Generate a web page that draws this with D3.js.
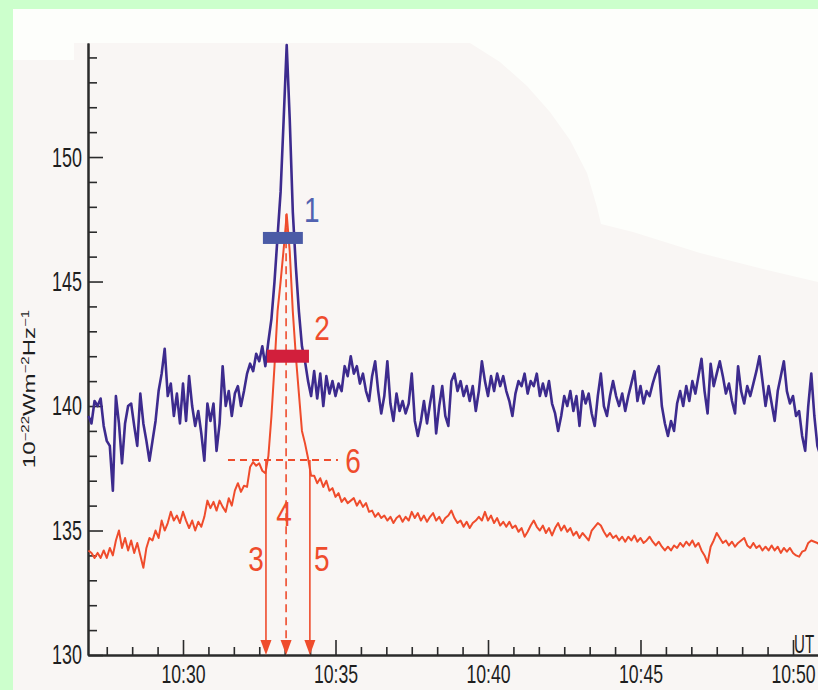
<!DOCTYPE html>
<html>
<head>
<meta charset="utf-8">
<script src="https://cdn.jsdelivr.net/npm/d3@7"></script>
<style>
  html, body { margin: 0; padding: 0; background: #ccffcc; }
  svg { display: block; }
  text { font-family: "Liberation Sans", Arial, Helvetica, sans-serif; }
</style>
</head>
<body>
<div id="chart"></div>
<script>
// ── Data ──────────────────────────────────────────────────────────────────
// time in minutes after 10:00 UT, one sample every 0.1 min
const sampleStart = 26.9;
const sampleStep  = 0.1;

// upper (blue) flux record, 10^-22 W m^-2 Hz^-1
const blueFlux = [
  139.6, 139.3, 140.2, 140.0, 140.3, 139.2, 138.6, 138.4, 136.6, 140.4,
  139.3, 137.7, 139.3, 140.0, 140.1, 139.2, 138.4, 140.5, 139.3, 138.6,
  137.8, 138.6, 139.4, 140.6, 141.3, 142.3, 140.4, 140.9, 139.6, 140.5,
  139.3, 140.9, 139.4, 141.2, 140.0, 139.2, 139.8, 138.9, 137.8, 140.1,
  139.4, 140.1, 138.2, 139.3, 141.6, 140.0, 140.6, 139.6, 140.5, 140.8,
  140.0, 140.6, 141.3, 141.7, 141.4, 142.1, 141.8, 142.4, 141.6, 142.6,
  143.5, 145.0, 146.8, 148.6, 151.5, 154.5, 151.5, 147.8, 145.6, 143.8,
  142.4, 141.8, 141.0, 140.4, 141.4, 140.3, 141.3, 140.0, 141.2, 140.5,
  141.0, 140.4, 140.9, 140.6, 141.6, 141.2, 142.0, 141.3, 141.6, 140.9,
  141.3, 140.6, 140.2, 141.2, 141.8, 140.6, 139.7, 140.4, 141.8, 140.1,
  139.4, 140.5, 139.8, 140.2, 139.7, 140.1, 141.3, 139.4, 138.8, 139.4,
  140.2, 139.3, 140.1, 140.8, 138.9, 140.0, 140.8, 139.6, 139.2, 141.0,
  141.3, 140.6, 141.0, 140.4, 140.8, 140.2, 140.8, 139.8, 140.6, 141.8,
  141.0, 140.4, 141.2, 140.6, 141.3, 140.8, 141.2, 140.6, 140.2, 139.6,
  140.5, 141.0, 140.8, 141.3, 140.5, 141.0, 140.8, 141.3, 140.4, 140.9,
  140.4, 141.0, 140.1, 139.7, 139.0, 139.6, 140.4, 140.0, 140.6, 139.8,
  140.4, 139.2, 140.6, 140.1, 140.5, 139.7, 139.2, 140.4, 141.3, 140.0,
  139.6, 140.4, 141.0, 140.4, 140.0, 140.5, 139.8, 140.4, 140.9, 141.4,
  140.2, 140.8, 140.1, 140.6, 140.4, 140.9, 141.3, 141.6, 140.0, 139.3,
  138.8, 139.4, 139.0, 140.1, 140.6, 140.0, 140.8, 140.2, 141.0, 140.5,
  141.2, 141.9, 140.6, 139.7, 141.7, 140.8, 141.3, 141.8, 141.2, 140.5,
  140.9, 140.2, 139.7, 141.6, 140.6, 140.1, 140.8, 140.4, 140.9, 141.4,
  142.0, 141.0, 140.0, 140.8, 140.1, 139.4, 140.6, 141.2, 141.8, 140.6,
  140.1, 140.4, 139.6, 139.8, 138.8, 138.2, 140.0, 141.3, 139.6, 138.4, 138.0
];

// lower (red) flux record
const redFlux = [
  134.2, 134.1, 133.9, 134.1, 133.9, 134.2, 133.9, 134.3, 134.0, 134.6,
  135.0, 134.3, 134.7, 134.2, 134.6, 134.1, 134.5, 134.0, 133.5, 134.3,
  134.7, 134.6, 135.0, 134.7, 135.4, 135.0, 135.3, 135.75, 135.4, 135.6,
  135.3, 135.75, 135.4, 135.1, 135.4, 135.0, 135.35, 135.15, 135.55, 136.2,
  135.9, 136.15, 135.8, 136.2, 135.95, 135.75, 136.3, 136.0, 136.6, 136.9,
  136.55, 136.8, 136.75, 137.55, 137.75, 137.6, 137.7, 137.4, 137.3, 138.0,
  139.6, 141.6, 143.8, 145.0, 146.3, 147.7, 146.2, 143.8, 142.0, 140.5,
  139.0, 138.5, 137.9, 137.2, 137.2, 136.9, 137.1, 136.75, 137.0, 136.6,
  136.7, 136.35, 136.5, 136.15, 136.3, 136.1, 136.2, 136.3, 136.0, 136.2,
  135.95, 136.1, 135.75, 135.8, 135.55, 135.7, 135.5, 135.6, 135.4, 135.55,
  135.3, 135.5, 135.6, 135.35, 135.55, 135.4, 135.75, 135.5, 135.7, 135.4,
  135.6, 135.35, 135.55, 135.7, 135.4, 135.55, 135.3, 135.5, 135.6, 135.8,
  135.5, 135.3, 135.4, 135.15, 135.35, 135.1, 135.3, 135.4, 135.55, 135.4,
  135.75, 135.4, 135.6, 135.3, 135.5, 135.2, 135.35, 135.15, 135.35, 135.1,
  135.2, 134.95, 135.1, 134.75, 134.95, 135.2, 135.4, 135.15, 135.0, 135.2,
  134.9, 135.1, 134.8, 135.1, 135.3, 135.0, 135.2, 134.95, 135.1, 134.8,
  134.95, 134.7, 134.9, 134.75, 134.6, 135.0, 135.15, 135.3, 135.2, 134.95,
  134.75, 134.9, 134.7, 134.8, 134.6, 134.75, 134.55, 134.75, 134.6, 134.8,
  134.55, 134.7, 134.5, 134.6, 134.75, 134.55, 134.4, 134.55, 134.35, 134.2,
  134.35, 134.2, 134.4, 134.3, 134.5, 134.35, 134.55, 134.4, 134.6, 134.35,
  134.5, 134.2, 134.0, 133.7, 134.35, 134.6, 134.9, 134.7, 134.5, 134.6,
  134.4, 134.55, 134.35, 134.5, 134.6, 134.7, 134.4, 134.3, 134.5, 134.3,
  134.4, 134.2, 134.35, 134.2, 134.4, 134.2, 134.35, 134.1, 134.3, 134.15,
  134.3, 134.1, 134.0, 133.95, 134.15, 134.2, 134.5, 134.6, 134.55, 134.5, 134.4
];

const yMajorTicks = [130, 135, 140, 145, 150];
const xMajorTicks = [30, 35, 40, 45, 50];
const xTickLabels = ["10:30", "10:35", "10:40", "10:45", "10:50"];

// numbered annotations (times in minutes after 10:00, flux levels)
const markerBars = [
  { id: "1", t0: 32.62, t1: 33.93, flux: 146.75 },
  { id: "2", t0: 32.75, t1: 34.13, flux: 142.0 }
];
const levelLine = { id: "6", t0: 31.475, t1: 35.08, flux: 137.83 };
const dropArrows = [
  { id: "3", t: 32.72, from: 137.83, dashed: false },
  { id: "4", t: 33.38, from: 147.7,  dashed: true  },
  { id: "5", t: 34.16, from: 137.83, dashed: false }
];

// ── Layout ────────────────────────────────────────────────────────────────
const totalW = 818, totalH = 690;
const plot = { left: 88, right: 818, top: 43, bottom: 655 };

const blueC = "#3d2b8e", redC = "#ef4c2c";
const blueBarC = "#4b5ba6", redBarC = "#d21f3c";
const axisC = "#2b2b2b";
const sqX = 0.64;   // the lettering in the figure is horizontally condensed

const svg = d3.select("#chart").append("svg")
  .attr("width", totalW).attr("height", totalH);

// panel + shaded plot backdrop
svg.append("rect").attr("x", 13).attr("y", 9)
  .attr("width", totalW - 13).attr("height", totalH - 9)
  .attr("fill", "#fdfefb");

const backdrop = [
  [13, 60], [74, 60], [74, 43], [470, 43], [500, 62], [527, 86], [550, 112],
  [570, 140], [587, 173], [597, 207], [601, 224], [633, 232], [700, 253],
  [767, 270], [818, 282], [818, 690], [13, 690]
];
svg.append("path")
  .attr("d", d3.line()(backdrop) + "Z")
  .attr("fill", "#f9f6f4");

// ── Scales ────────────────────────────────────────────────────────────────
const x = d3.scaleLinear().domain([26.885, 50.82]).range([plot.left, plot.right]);
const y = d3.scaleLinear().domain([130, 154.58]).range([plot.bottom, plot.top]);

const minorX = d3.range(-3, 25).filter(k => k % 6 !== 0).map(k => 30 + k * 5 / 6);
const minorY = d3.range(131, 155).filter(v => v % 5 !== 0);

// ── Axes ──────────────────────────────────────────────────────────────────
function styleAxis(g) {
  g.select(".domain").attr("stroke", axisC).attr("stroke-width", 2);
  g.selectAll(".tick line").attr("stroke", axisC).attr("stroke-width", 1.6);
}

svg.append("g").attr("transform", `translate(0,${plot.bottom})`)
  .call(d3.axisBottom(x).tickValues(minorX).tickSizeInner(-8).tickSizeOuter(0).tickFormat(""))
  .call(styleAxis);

const gx = svg.append("g").attr("transform", `translate(0,${plot.bottom})`)
  .call(d3.axisBottom(x).tickValues(xMajorTicks).tickSizeInner(-15).tickSizeOuter(0)
    .tickPadding(10).tickFormat((d, i) => xTickLabels[i]))
  .call(styleAxis);
gx.selectAll(".tick text")
  .attr("font-size", 26).attr("fill", "#1e1e1e")
  .attr("font-family", "Liberation Sans, Arial, sans-serif")
  .attr("transform", `scale(0.68,1)`);

svg.append("g").attr("transform", `translate(${plot.left},0)`)
  .call(d3.axisLeft(y).tickValues(minorY).tickSizeInner(-9).tickSizeOuter(0).tickFormat(""))
  .call(styleAxis);

const gy = svg.append("g").attr("transform", `translate(${plot.left},0)`)
  .call(d3.axisLeft(y).tickValues(yMajorTicks).tickSizeInner(-15).tickSizeOuter(0).tickPadding(6))
  .call(styleAxis);
gy.selectAll(".tick text")
  .attr("font-size", 28).attr("fill", "#1e1e1e")
  .attr("font-family", "Liberation Sans, Arial, sans-serif")
  .attr("x", -6 / sqX)
  .attr("transform", `scale(${sqX},1)`);

// "UT" tag at the right end of the time axis
svg.append("text")
  .attr("transform", `translate(${x(50) + 1},${plot.bottom - 2}) scale(0.58,1)`)
  .attr("font-size", 26).attr("fill", "#1e1e1e")
  .text("UT");

// y axis title: 10^-22 W m^-2 Hz^-1
const yTitle = svg.append("text")
  .attr("transform", `translate(35,${(plot.top + plot.bottom) / 2 + 40}) scale(0.7,1) rotate(-90)`)
  .attr("text-anchor", "middle")
  .attr("font-size", 24).attr("fill", "#1e1e1e");
yTitle.append("tspan").text("10");
yTitle.append("tspan").attr("dy", -9).attr("font-size", 15).text("−22");
yTitle.append("tspan").attr("dy", 9).text("Wm");
yTitle.append("tspan").attr("dy", -9).attr("font-size", 15).text("−2");
yTitle.append("tspan").attr("dy", 9).text("Hz");
yTitle.append("tspan").attr("dy", -9).attr("font-size", 15).text("−1");

// ── Flux curves ───────────────────────────────────────────────────────────
const fluxLine = d3.line()
  .x((d, i) => x(sampleStart + i * sampleStep))
  .y(d => y(d));

svg.append("path").datum(blueFlux)
  .attr("fill", "none").attr("stroke", blueC)
  .attr("stroke-width", 2.6).attr("stroke-linejoin", "round")
  .attr("d", fluxLine);

svg.append("path").datum(redFlux)
  .attr("fill", "none").attr("stroke", redC)
  .attr("stroke-width", 2).attr("stroke-linejoin", "round")
  .attr("d", fluxLine);

// ── Annotations ───────────────────────────────────────────────────────────
function label(txt, cx, baseline, color) {
  svg.append("text")
    .attr("transform", `translate(${cx},${baseline}) scale(0.8,1)`)
    .attr("text-anchor", "middle")
    .attr("font-size", 35).attr("fill", color)
    .text(txt);
}

// half-level dashed line (6)
svg.append("line")
  .attr("x1", x(levelLine.t0)).attr("x2", x(levelLine.t1))
  .attr("y1", y(levelLine.flux)).attr("y2", y(levelLine.flux))
  .attr("stroke", redC).attr("stroke-width", 2)
  .attr("stroke-dasharray", "7,5");
label(levelLine.id, x(levelLine.t1) + 15, y(levelLine.flux) + 13, redC);

// drop arrows (3, 4, 5)
const labelShift = { "3": [-10, 571], "4": [-2, 526], "5": [12, 571] };
dropArrows.forEach(a => {
  const ax = x(a.t), tipY = y(130), headH = 15, headW = 5.5;
  svg.append("line")
    .attr("x1", ax).attr("x2", ax)
    .attr("y1", y(a.from)).attr("y2", tipY - headH + 2)
    .attr("stroke", redC).attr("stroke-width", 1.6)
    .attr("stroke-dasharray", a.dashed ? "8,5" : null);
  svg.append("path")
    .attr("d", `M${ax},${tipY}L${ax - headW},${tipY - headH}L${ax + headW},${tipY - headH}Z`)
    .attr("fill", redC);
  const [dx, by] = labelShift[a.id];
  label(a.id, ax + dx, by, redC);
});

// width bars (1, 2)
const barColors = { "1": blueBarC, "2": redBarC };
const barH = { "1": 12, "2": 13 };
const labelColors = { "1": "#5262b0", "2": redC };
markerBars.forEach(b => {
  svg.append("rect")
    .attr("x", x(b.t0)).attr("width", x(b.t1) - x(b.t0))
    .attr("y", y(b.flux) - barH[b.id] / 2).attr("height", barH[b.id])
    .attr("fill", barColors[b.id]);
  label(b.id, x(b.t1) + (b.id === "1" ? 9 : 13), y(b.flux) - 16, labelColors[b.id]);
});
</script>
</body>
</html>
